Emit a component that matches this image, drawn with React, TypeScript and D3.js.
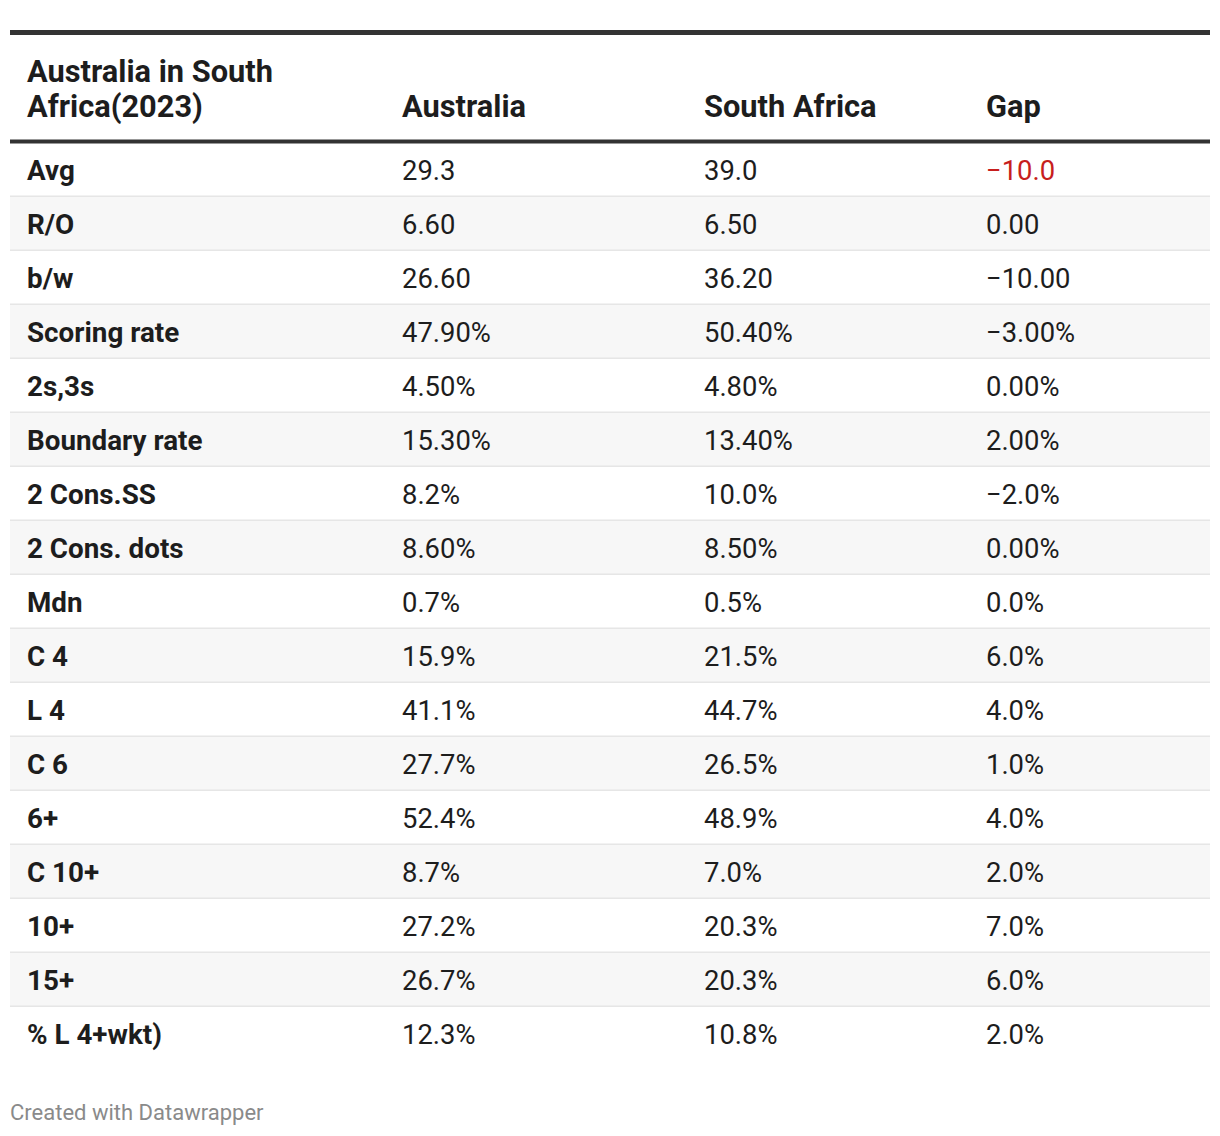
import React from "react";
import * as d3 from "d3";

const headers = ["Australia in South\nAfrica(2023)", "Australia", "South Africa", "Gap"];
const metrics = ["Avg", "R/O", "b/w", "Scoring rate", "2s,3s", "Boundary rate", "2 Cons.SS", "2 Cons. dots", "Mdn", "C 4", "L 4", "C 6", "6+", "C 10+", "10+", "15+", "% L 4+wkt)"];
const australia = ["29.3", "6.60", "26.60", "47.90%", "4.50%", "15.30%", "8.2%", "8.60%", "0.7%", "15.9%", "41.1%", "27.7%", "52.4%", "8.7%", "27.2%", "26.7%", "12.3%"];
const southAfrica = ["39.0", "6.50", "36.20", "50.40%", "4.80%", "13.40%", "10.0%", "8.50%", "0.5%", "21.5%", "44.7%", "26.5%", "48.9%", "7.0%", "20.3%", "20.3%", "10.8%"];
const gap = ["−10.0", "0.00", "−10.00", "−3.00%", "0.00%", "2.00%", "−2.0%", "0.00%", "0.0%", "6.0%", "4.0%", "1.0%", "4.0%", "2.0%", "7.0%", "6.0%", "2.0%"];
const highlightedGap = [0];

const W = 1220, H = 1136;
const left = 10, right = 1210;
const bodyTop = 143, rowH = 54;
const colX = [27, 402, 704, 986];
const font = "Roboto, 'Noto Sans', sans-serif";

export default function App() {
  const y = d3.scaleBand<number>()
    .domain(d3.range(metrics.length))
    .range([bodyTop, bodyTop + rowH * metrics.length]);
  const cols = [metrics, australia, southAfrica, gap];
  return (
    <svg width={W} height={H} style={{ position: "absolute", left: 0, top: 0, background: "#fff" }} fontFamily={font}>
      <rect x={0} y={0} width={W} height={H} fill="#fff" />
      <rect x={left} y={30} width={right - left} height={5} fill="#333" />
      {headers.map((h, i) => {
        const lines = h.split("\n");
        return (
          <text key={i} x={colX[i]} fontSize={30.8} fontWeight={700} fill="#1d1d1d">
            {lines.map((l, j) => (
              <tspan key={j} x={colX[i]} y={117 - (lines.length - 1 - j) * 35.5}>{l}</tspan>
            ))}
          </text>
        );
      })}
      {metrics.map((m, r) => {
        const y0 = y(r)!;
        return (
          <g key={m}>
            <rect x={left} y={y0} width={right - left} height={rowH} fill={r % 2 === 1 ? "#f7f7f7" : "#fff"} />
            {r < metrics.length - 1 && (
              <rect x={left} y={y0 + rowH - 1.5} width={right - left} height={2} fill="#e6e6e6" />
            )}
            {cols.map((c, ci) => (
              <text key={ci} x={colX[ci]} y={y0 + rowH / 2 + 9.7} fontSize={ci === 0 ? 27.8 : 27.4}
                fontWeight={ci === 0 ? 700 : 400}
                fill={ci === 3 && highlightedGap.includes(r) ? "#c71e1d" : "#1d1d1d"}>
                {c[r]}
              </text>
            ))}
          </g>
        );
      })}
      <rect x={left} y={139.5} width={right - left} height={4} fill="#333" />
      <text x={10} y={1120} fontSize={22} fill="#8a8a8a">Created with Datawrapper</text>
    </svg>
  );
}
